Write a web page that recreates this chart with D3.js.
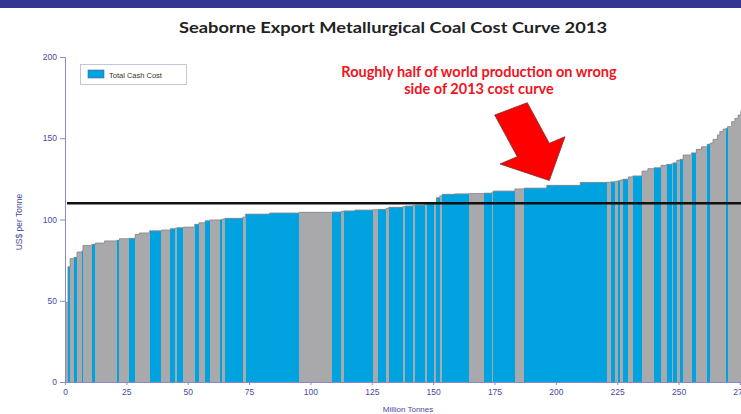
<!DOCTYPE html>
<html>
<head>
<meta charset="utf-8">
<script src="https://cdn.jsdelivr.net/npm/d3@7"></script>
<style>
  html, body { margin: 0; padding: 0; background: #fff; overflow: hidden; }
  svg { display: block; }
</style>
</head>
<body>
<svg id="chart" width="741" height="414"></svg>
<script>
// ---- data ----
const title = "Seaborne Export Metallurgical Coal Cost Curve 2013";
const annotationLines = ["Roughly half of world production on wrong", "side of 2013 cost curve"];
const legendLabel = "Total Cash Cost";
const xTitle = "Million Tonnes";
const yTitle = "US$ per Tonne";
const xTicks = [0, 25, 50, 75, 100, 125, 150, 175, 200, 225, 250, 275];
const yTicks = [0, 50, 100, 150, 200];
const referenceCost = 110;

// production of each mine (Mt), in cost order
const tonnes = [1.2, 0.9, 1.5, 1.3, 1.9, 0.5, 3.5, 1.6, 3.7, 5.0,
  1.1, 3.7, 2.7, 1.75, 4.1, 4.8, 3.7, 1.75, 0.9, 2.6,
  4.6, 1.75, 2.6, 1.75, 4.35, 0.8, 1.05, 7.35, 1.1, 9.8,
  11.95, 13.6, 3.7, 0.9, 4.5, 7.45, 2.05, 3.4, 0.95, 5.85,
  0.95, 3.1, 1.0, 3.8, 0.95, 2.85, 1.0, 1.35, 0.95, 5.15,
  5.85, 6.0, 3.15, 0.65, 8.85, 3.8, 9.15, 13.7, 10.9, 1.45,
  1.95, 0.9, 1.0, 1.2, 2.25, 1.7, 3.85, 2.35, 2.55, 2.75,
  2.3, 2.05, 0.65, 1.4, 1.35, 1.35, 3.4, 1.95, 2.1, 2.35,
  1.3, 1.05, 1.8, 0.95, 1.35, 1.1, 0.7, 1.65, 1.35, 1.35,
  1.1, 3.7];
// total cash cost of each mine (US$/t)
const cost = [49, 71, 76, 76.7, 80, 80.5, 84, 84.7, 85.5, 86.8,
  87.2, 88.2, 88.4, 90.8, 91.7, 93.1, 93.5, 94.4, 94.6, 95,
  95.3, 97, 98, 99.3, 99.7, 99.9, 100.3, 100.7, 101.5, 103.3,
  104, 104.4, 104.6, 105, 105.3, 105.8, 106, 106.2, 106.8, 107.5,
  108, 108.3, 108.6, 108.9, 109.3, 109.9, 110.5, 113.5, 114.5, 115.5,
  115.8, 116, 116.2, 116.5, 117.5, 118.8, 119.3, 121, 122.8, 122.9,
  123.2, 123.5, 123.8, 124.3, 124.8, 126.2, 126.8, 129.8, 131.3, 131.9,
  133.3, 133.9, 134.3, 134.9, 136.4, 137, 139.7, 141, 143.2, 144.8,
  146.3, 147, 149.3, 152, 154.1, 155.6, 156.1, 157.2, 160.2, 162.2,
  164.3, 167];
// highlighted (blue) = 1, other (grey) = 0
const highlight = [0, 1, 0, 1, 0, 1, 0, 1, 0, 0,
  1, 0, 1, 0, 0, 1, 0, 1, 0, 1,
  0, 1, 0, 1, 0, 1, 0, 1, 0, 1,
  1, 0, 1, 0, 1, 1, 0, 1, 0, 1,
  0, 1, 0, 1, 0, 1, 0, 1, 0, 1,
  1, 0, 1, 0, 1, 0, 1, 1, 1, 0,
  1, 0, 1, 0, 1, 0, 1, 0, 0, 1,
  0, 1, 0, 1, 0, 1, 0, 1, 0, 0,
  1, 0, 0, 0, 0, 0, 1, 0, 0, 0,
  0, 0];

// ---- drawing ----
const BLUE = "#00a2e0", GREY = "#a9a9ab", AXIS = "#8a8ac4", TICKTXT = "#4a4a9e";
const svg = d3.select("#chart");
const W = 741, H = 414;

// banner
svg.append("rect").attr("x", 0).attr("y", 0).attr("width", W).attr("height", 8).attr("fill", "#353596");

// title
svg.append("text").attr("x", 393).attr("y", 33)
  .attr("text-anchor", "middle")
  .attr("font-family", "Lato, 'Open Sans', sans-serif").attr("font-weight", "bold")
  .attr("font-size", 16).attr("fill", "#222")
  .attr("textLength", 428).attr("lengthAdjust", "spacingAndGlyphs")
  .text(title);

const x = d3.scaleLinear().domain([0, 275]).range([65, 739.9]);
const y = d3.scaleLinear().domain([0, 200]).range([382, 57]);

// build bar extents
let acc = 0;
const bars = tonnes.map((t, i) => {
  const d = { x0: acc, x1: acc + t, v: cost[i], hi: highlight[i] };
  acc += t;
  return d;
});

const g = svg.append("g");
g.selectAll("rect.bar").data(bars).join("rect")
  .attr("class", "bar")
  .attr("x", d => x(d.x0))
  .attr("width", d => Math.max(0.1, x(d.x1) - x(d.x0)))
  .attr("y", d => y(d.v))
  .attr("height", d => y(0) - y(d.v))
  .attr("fill", d => d.hi ? BLUE : GREY)
  .attr("shape-rendering", "crispEdges");

// outline along the top of the curve
const stepPts = [];
bars.forEach(d => { stepPts.push([x(d.x0), y(d.v)]); stepPts.push([x(d.x1), y(d.v)]); });
g.append("path")
  .attr("d", d3.line()(stepPts))
  .attr("fill", "none").attr("stroke", "#8c8c8e").attr("stroke-width", 0.9);

// y axis
const yAxis = d3.axisLeft(y).tickValues(yTicks).tickSize(5).tickPadding(3);
const ya = svg.append("g").attr("transform", "translate(65,0)").call(yAxis);
ya.select(".domain").attr("stroke", AXIS);
ya.selectAll(".tick line").attr("stroke", AXIS);
ya.selectAll(".tick text").attr("fill", TICKTXT).attr("font-size", 8.5)
  .attr("font-family", "'Liberation Sans', Arial, sans-serif");

// x axis
const xAxis = d3.axisBottom(x).tickValues(xTicks).tickSize(3).tickPadding(4);
const xa = svg.append("g").attr("transform", "translate(0,382)").call(xAxis);
xa.select(".domain").attr("stroke", AXIS);
xa.selectAll(".tick line").attr("stroke", AXIS);
xa.selectAll(".tick text").attr("fill", TICKTXT).attr("font-size", 8.5)
  .attr("font-family", "'Liberation Sans', Arial, sans-serif");

// axis titles
svg.append("text").attr("x", 408).attr("y", 412).attr("text-anchor", "middle")
  .attr("font-family", "'Liberation Sans', Arial, sans-serif").attr("font-size", 8)
  .attr("fill", TICKTXT).text(xTitle);
svg.append("text").attr("transform", "translate(22,222) rotate(-90)").attr("text-anchor", "middle")
  .attr("font-family", "'Liberation Sans', Arial, sans-serif").attr("font-size", 8.5)
  .attr("fill", TICKTXT).text(yTitle);

// reference line
svg.append("line").attr("x1", 67).attr("x2", W).attr("y1", y(referenceCost)).attr("y2", y(referenceCost))
  .attr("stroke", "#111").attr("stroke-width", 2.6);

// legend
const lg = svg.append("g");
lg.append("rect").attr("x", 80.5).attr("y", 64.5).attr("width", 106).attr("height", 20)
  .attr("fill", "#fff").attr("stroke", "#c4c4dc").attr("stroke-width", 1);
lg.append("rect").attr("x", 88).attr("y", 70).attr("width", 16).attr("height", 8)
  .attr("fill", BLUE).attr("stroke", "#5a5a8a").attr("stroke-width", 0.6);
lg.append("text").attr("x", 109).attr("y", 77.5)
  .attr("font-family", "'Liberation Sans', Arial, sans-serif").attr("font-size", 7.5)
  .attr("fill", "#333").text(legendLabel);

// annotation text
annotationLines.forEach((t, i) => {
  svg.append("text").attr("x", 479).attr("y", 77 + i * 17).attr("text-anchor", "middle")
    .attr("font-family", "Lato, 'Open Sans', sans-serif").attr("font-weight", "bold")
    .attr("font-size", 14.5).attr("fill", "#f0141e").text(t);
});

// red arrow
const arrow = [[494.7, 115], [527.3, 102.7], [549.3, 143.3], [565, 136.7], [549.3, 180.5], [500, 164], [517.3, 156.7]];
svg.append("path").attr("d", d3.line()(arrow) + "Z")
  .attr("fill", "#ff0000").attr("stroke", "#7a3030").attr("stroke-width", 0.8)
  .attr("stroke-linejoin", "miter");
</script>
</body>
</html>
